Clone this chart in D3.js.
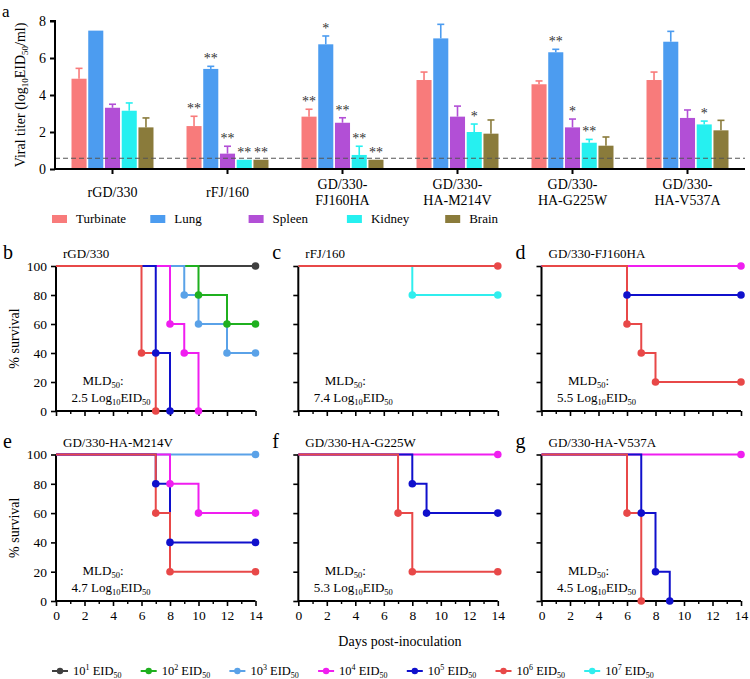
<!DOCTYPE html>
<html><head><meta charset="utf-8">
<script src="https://cdn.jsdelivr.net/npm/d3@7"></script>
<style>
body{margin:0;background:#fff;}
svg{display:block;font-family:"Liberation Serif","Times New Roman",serif;}
</style></head><body>
<svg id="chart" width="750" height="679"></svg>
<script>
// ---------- Panel a data ----------
const groups = ["rGD/330","rFJ/160","GD/330-FJ160HA","GD/330-HA-M214V","GD/330-HA-G225W","GD/330-HA-V537A"];
const groupLines = [["rGD/330"],["rFJ/160"],["GD/330-","FJ160HA"],["GD/330-","HA-M214V"],["GD/330-","HA-G225W"],["GD/330-","HA-V537A"]];
const organs = ["Turbinate","Lung","Spleen","Kidney","Brain"];
const organColors = ["#f87b7b","#4c9cf0","#b24fd6","#26f0f0","#8a7b3b"];
const turbinate = [4.88, 2.32, 2.83, 4.81, 4.58, 4.81];
const lung      = [7.48, 5.41, 6.74, 7.06, 6.31, 6.88];
const spleen    = [3.31, 0.83, 2.50, 2.83, 2.25, 2.76];
const kidney    = [3.15, 0.50, 0.76, 2.00, 1.42, 2.41];
const brain     = [2.25, 0.50, 0.50, 1.91, 1.26, 2.09];
const turbinateSD = [0.56, 0.53, 0.40, 0.43, 0.18, 0.43];
const lungSD      = [0.00, 0.14, 0.45, 0.76, 0.16, 0.56];
const spleenSD    = [0.19, 0.40, 0.27, 0.57, 0.45, 0.43];
const kidneySD    = [0.42, 0.00, 0.47, 0.43, 0.18, 0.18];
const brainSD     = [0.51, 0.00, 0.00, 0.74, 0.47, 0.54];
const turbinateSig = ["","**","**","","",""];
const lungSig      = ["","**","*","","**",""];
const spleenSig    = ["","**","**","","*",""];
const kidneySig    = ["","**","**","*","**","*"];
const brainSig     = ["","**","**","","",""];
const detectionLimit = 0.58;
const titerTicks = [0,2,4,6,8];

// ---------- Panels b-g data ----------
const doseLabels = ["1","2","3","4","5","6","7"];
const doseColors = ["#404040","#1fb01f","#5aa2e8","#f01ef0","#1010cc","#e84848","#30eeee"];
const panelLetters = ["b","c","d","e","f","g"];
const panelTitles = ["rGD/330","rFJ/160","GD/330-FJ160HA","GD/330-HA-M214V","GD/330-HA-G225W","GD/330-HA-V537A"];
const mld50 = ["2.5","7.4","5.5","4.7","5.3","4.5"];
const dayTicks = [0,2,4,6,8,10,12,14];
const dayMinor = [1,3,5,7,9,11,13];
const survTicks = [0,20,40,60,80,100];
// each entry: [dose index, step points [day, % survival]]
const survB = [
  [0, [[0,100],[14,100]]],
  [1, [[0,100],[10,80],[12,60],[14,60]]],
  [2, [[0,100],[9,80],[10,60],[12,40],[14,40]]],
  [3, [[0,100],[8,60],[9,40],[10,0]]],
  [4, [[0,100],[7,40],[8,0]]],
  [5, [[0,100],[6,40],[7,0]]]
];
const survC = [
  [6, [[0,100],[8,80],[14,80]]],
  [5, [[0,100],[14,100]]]
];
const survD = [
  [3, [[0,100],[14,100]]],
  [4, [[0,100],[6,80],[14,80]]],
  [5, [[0,100],[6,60],[7,40],[8,20],[14,20]]]
];
const survE = [
  [2, [[0,100],[14,100]]],
  [3, [[0,100],[8,80],[10,60],[14,60]]],
  [4, [[0,100],[7,80],[8,40],[14,40]]],
  [5, [[0,100],[7,60],[8,20],[14,20]]]
];
const survF = [
  [3, [[0,100],[14,100]]],
  [4, [[0,100],[8,80],[9,60],[14,60]]],
  [5, [[0,100],[7,60],[8,20],[14,20]]]
];
const survG = [
  [3, [[0,100],[14,100]]],
  [4, [[0,100],[7,60],[8,20],[9,0]]],
  [5, [[0,100],[6,60],[7,0]]]
];
const survAll = [survB, survC, survD, survE, survF, survG];

const svg = d3.select("#chart");

// ================= Panel a =================
const values = [turbinate, lung, spleen, kidney, brain];
const sds = [turbinateSD, lungSD, spleenSD, kidneySD, brainSD];
const sigs = [turbinateSig, lungSig, spleenSig, kidneySig, brainSig];

const ax0 = 55, ax1 = 745, ayTop = 21, ay0 = 169;
const xG = d3.scaleBand().domain(groups).range([ax0, ax1]).paddingInner(0.287).paddingOuter(0.1435);
const xO = d3.scaleBand().domain(organs).range([0, xG.bandwidth()]).paddingInner(0.1);
const yT = d3.scaleLinear().domain([0,8]).range([ay0, ayTop]);

svg.append("text").attr("x", 2).attr("y", 16.5).attr("font-size", 17).text("a");

const gA = svg.append("g");
groups.forEach((g, gi) => {
  organs.forEach((o, oi) => {
    const v = values[oi][gi], sd = sds[oi][gi];
    const bx = xG(g) + xO(o), bw = xO.bandwidth();
    gA.append("rect").attr("x", bx).attr("y", yT(v)).attr("width", bw).attr("height", yT(0) - yT(v))
      .attr("fill", organColors[oi]);
    const cx = bx + bw / 2;
    if (sd > 0) {
      gA.append("line").attr("x1", cx).attr("x2", cx).attr("y1", yT(v)).attr("y2", yT(v + sd))
        .attr("stroke", organColors[oi]).attr("stroke-width", 1.6);
      gA.append("line").attr("x1", cx - 3.5).attr("x2", cx + 3.5).attr("y1", yT(v + sd)).attr("y2", yT(v + sd))
        .attr("stroke", organColors[oi]).attr("stroke-width", 1.6);
    }
    const s = sigs[oi][gi];
    if (s) {
      gA.append("text").attr("x", cx).attr("y", yT(v + sd) - 3).attr("text-anchor", "middle")
        .attr("font-size", 14).attr("fill", "#333").text(s);
    }
  });
});

// detection limit
gA.append("line").attr("x1", ax0).attr("x2", ax1).attr("y1", yT(detectionLimit)).attr("y2", yT(detectionLimit))
  .attr("stroke", "#555").attr("stroke-width", 1.1).attr("stroke-dasharray", "5,3");

// axes
const yAxisA = svg.append("g").attr("transform", `translate(${ax0},0)`)
  .call(d3.axisLeft(yT).tickValues(titerTicks).tickSize(5).tickPadding(4));
yAxisA.select(".domain").attr("stroke-width", 2).attr("d", `M-5,${ayTop}H0V${ay0}`);
yAxisA.selectAll(".tick line").attr("stroke-width", 2);
yAxisA.selectAll("text").attr("font-size", 14).attr("font-family", "Liberation Serif");

const xAxisA = svg.append("g").attr("transform", `translate(0,${ay0})`)
  .call(d3.axisBottom(xG).tickSize(5).tickFormat(""));
xAxisA.select(".domain").attr("stroke-width", 2).attr("d", `M${ax0},0H${ax1}`);
xAxisA.selectAll(".tick line").attr("stroke-width", 2);

groups.forEach((g, gi) => {
  const lines = groupLines[gi];
  const cx = xG(g) + xG.bandwidth() / 2;
  const t = svg.append("text").attr("text-anchor", "middle").attr("font-size", 14);
  if (lines.length === 1) {
    t.append("tspan").attr("x", cx).attr("y", 197).text(lines[0]);
  } else {
    t.append("tspan").attr("x", cx).attr("y", 189).text(lines[0]);
    t.append("tspan").attr("x", cx).attr("y", 204.5).text(lines[1]);
  }
});

// y title
const yTitle = svg.append("text").attr("transform", `translate(25,${(ayTop + ay0) / 2}) rotate(-90)`)
  .attr("text-anchor", "middle").attr("font-size", 14);
yTitle.append("tspan").text("Viral titer (log");
yTitle.append("tspan").attr("font-size", 9).attr("dy", 3).text("10");
yTitle.append("tspan").attr("dy", -3).text("EID");
yTitle.append("tspan").attr("font-size", 9).attr("dy", 3).text("50");
yTitle.append("tspan").attr("dy", -3).text("/ml)");

// legend a
const legA = svg.append("g");
organs.forEach((o, oi) => {
  const lx = 52 + oi * 98.3;
  legA.append("rect").attr("x", lx).attr("y", 215).attr("width", 15).attr("height", 8).attr("fill", organColors[oi]);
  legA.append("text").attr("x", lx + 24).attr("y", 223).attr("font-size", 13).text(o);
});

// ================= Panels b-g =================
const colX = [56, 298.3, 541.5];
const rowY = [[266, 411], [454.5, 601]];
const pw = 199.5;

survAll.forEach((series, pi) => {
  const col = pi % 3, row = Math.floor(pi / 3);
  const x0 = colX[col], yTopP = rowY[row][0], yBot = rowY[row][1];
  const xS = d3.scaleLinear().domain([0,14]).range([x0, x0 + pw]);
  const yS = d3.scaleLinear().domain([0,100]).range([yBot, yTopP]);
  const g = svg.append("g");

  // letter + title
  svg.append("text").attr("x", col === 0 ? 3 : x0 - 26).attr("y", yTopP - 7).attr("font-size", 20)
    .text(panelLetters[pi]);
  svg.append("text").attr("x", x0 + 7).attr("y", yTopP - 8).attr("font-size", 13).text(panelTitles[pi]);

  // axes
  const xa = g.append("g").attr("transform", `translate(0,${yBot})`)
    .call(d3.axisBottom(xS).tickValues(dayTicks).tickSize(5).tickPadding(4)
      .tickFormat(row === 1 ? d3.format("d") : ""));
  xa.select(".domain").attr("stroke-width", 2).attr("d", `M${x0},0H${x0 + pw}`);
  xa.selectAll(".tick line").attr("stroke-width", 1.6);
  xa.selectAll("text").attr("font-size", 13.5).attr("font-family", "Liberation Serif");
  const xm = g.append("g").attr("transform", `translate(0,${yBot})`)
    .call(d3.axisBottom(xS).tickValues(dayMinor).tickSize(3).tickFormat(""));
  xm.select(".domain").remove();
  xm.selectAll(".tick line").attr("stroke-width", 1.4);

  const ya = g.append("g").attr("transform", `translate(${x0},0)`)
    .call(d3.axisLeft(yS).tickValues(survTicks).tickSize(5).tickPadding(4)
      .tickFormat(col === 0 ? d3.format("d") : ""));
  ya.select(".domain").attr("stroke-width", 2).attr("d", `M0,${yTopP}V${yBot}`);
  ya.selectAll(".tick line").attr("stroke-width", 1.6);
  ya.selectAll("text").attr("font-size", 13.5).attr("font-family", "Liberation Serif");

  if (col === 0) {
    svg.append("text").attr("transform", `translate(19,${(yTopP + yBot) / 2}) rotate(-90)`)
      .attr("text-anchor", "middle").attr("font-size", 14).text("% survival");
  }

  // curves
  const line = d3.line().x(d => xS(d[0])).y(d => yS(d[1])).curve(d3.curveStepAfter);
  series.forEach(([di, pts]) => {
    g.append("path").attr("d", line(pts)).attr("fill", "none")
      .attr("stroke", doseColors[di]).attr("stroke-width", 2);
  });
  series.forEach(([di, pts]) => {
    pts.slice(1).forEach(p => {
      g.append("circle").attr("cx", xS(p[0])).attr("cy", yS(p[1])).attr("r", 3.8).attr("fill", doseColors[di]);
    });
  });

  // MLD50 text
  const t1 = svg.append("text").attr("x", x0 + 47).attr("y", yBot - 26).attr("text-anchor", "middle").attr("font-size", 13);
  t1.append("tspan").text("MLD");
  t1.append("tspan").attr("font-size", 8.5).attr("dy", 3).text("50");
  t1.append("tspan").attr("dy", -3).text(":");
  const t2 = svg.append("text").attr("x", x0 + 55).attr("y", yBot - 9).attr("text-anchor", "middle").attr("font-size", 13);
  t2.append("tspan").text(mld50[pi] + " Log");
  t2.append("tspan").attr("font-size", 8.5).attr("dy", 3).text("10");
  t2.append("tspan").attr("dy", -3).text("EID");
  t2.append("tspan").attr("font-size", 8.5).attr("dy", 3).text("50");
});

svg.append("text").attr("x", 400).attr("y", 646).attr("text-anchor", "middle").attr("font-size", 14)
  .text("Days post-inoculation");

// bottom legend
const legB = svg.append("g");
doseLabels.forEach((d, di) => {
  const lx = 52 + di * 88.7, ly = 671;
  legB.append("line").attr("x1", lx).attr("x2", lx + 16).attr("y1", ly).attr("y2", ly)
    .attr("stroke", doseColors[di]).attr("stroke-width", 2);
  legB.append("circle").attr("cx", lx + 8).attr("cy", ly).attr("r", 3.2).attr("fill", doseColors[di]);
  const t = legB.append("text").attr("x", lx + 21).attr("y", ly + 4).attr("font-size", 12.5);
  t.append("tspan").text("10");
  t.append("tspan").attr("font-size", 8).attr("dy", -5).text(d);
  t.append("tspan").attr("dy", 5).text(" EID");
  t.append("tspan").attr("font-size", 8).attr("dy", 3).text("50");
});
</script>
</body></html>
